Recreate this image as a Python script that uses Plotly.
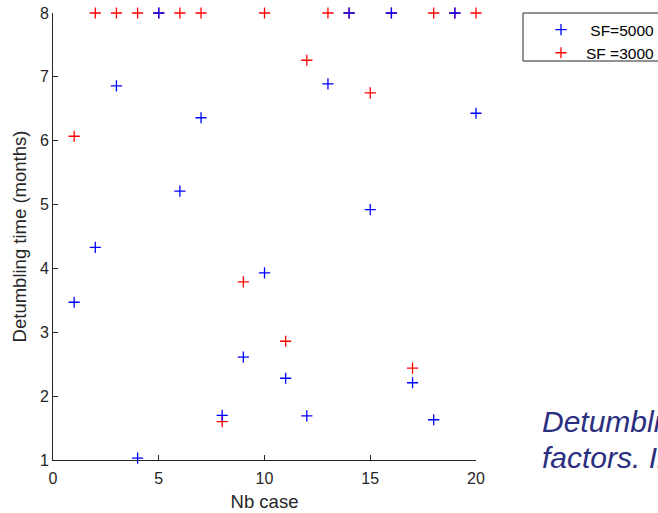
import plotly.graph_objects as go

cases = list(range(1, 21))
sf5000 = [3.47, 4.33, 6.86, 1.03, 8.0, 5.21, 6.36, 1.70, 2.61, 3.93,
          2.28, 1.69, 6.89, 8.0, 4.92, 8.0, 2.21, 1.63, 8.0, 6.43]
sf3000 = [6.07, 8.0, 8.0, 8.0, 8.0, 8.0, 8.0, 1.60, 3.79, 8.0,
          2.86, 7.26, 8.0, 8.0, 6.75, 8.0, 2.44, 8.0, 8.0, 8.0]

W, H = 658, 513
ml, mr, mt, mb = 53, 182, 13, 53
pw = W - ml - mr
ph = H - mt - mb
def px(xpix):
    return (xpix - ml) / pw
def py(ypix):
    return (H - mb - ypix) / ph

fig = go.Figure()
fig.add_trace(go.Scatter(x=cases, y=sf3000, mode="markers", name="SF =3000",
                         legendrank=2, cliponaxis=False,
                         marker=dict(symbol="cross-thin", size=8, color="red",
                                     line=dict(color="red", width=1.3))))
fig.add_trace(go.Scatter(x=cases, y=sf5000, mode="markers", name="\u00a0SF=5000",
                         legendrank=1, cliponaxis=False,
                         marker=dict(symbol="cross-thin", size=8, color="blue",
                                     line=dict(color="blue", width=1.3))))

axcol = "#262626"
fig.update_xaxes(range=[0, 20], tickvals=[0, 5, 10, 15, 20], ticks="inside",
                 ticklen=5, tickcolor=axcol, showline=True, linecolor=axcol,
                 linewidth=1, showgrid=False, zeroline=False, automargin=False,
                 tickfont=dict(size=16, color=axcol), ticklabelstandoff=4,
                 title=dict(text="Nb case", font=dict(size=18.5, color=axcol), standoff=8))
fig.update_yaxes(range=[1, 8], tickvals=[1, 2, 3, 4, 5, 6, 7, 8], ticks="inside",
                 ticklen=5, tickcolor=axcol, showline=True, linecolor=axcol,
                 linewidth=1, showgrid=False, zeroline=False, automargin=False,
                 tickfont=dict(size=16, color=axcol),
                 title=dict(text="Detumbling time (months)", font=dict(size=18.5, color=axcol), standoff=8))

fig.add_shape(type="rect", xref="paper", yref="paper",
              x0=px(523), x1=px(670), y0=py(61), y1=py(13),
              line=dict(color=axcol, width=1), fillcolor="rgba(0,0,0,0)")

fig.add_annotation(xref="paper", yref="paper", x=px(540), y=py(403), xanchor="left",
                   yanchor="top", text="<i>Detumbling time</i>", showarrow=False, align="left",
                   font=dict(family="Liberation Sans, Arial", size=30, color="#2B2F80"))
fig.add_annotation(xref="paper", yref="paper", x=px(540), y=py(439), xanchor="left",
                   yanchor="top", text="<i>factors. In</i>", showarrow=False, align="left",
                   font=dict(family="Liberation Sans, Arial", size=30, color="#2B2F80"))

fig.update_layout(
    width=W, height=H,
    margin=dict(l=ml, r=mr, t=mt, b=mb, autoexpand=False),
    paper_bgcolor="white", plot_bgcolor="white",
    font=dict(family="Liberation Sans, Arial, sans-serif", color=axcol),
    legend=dict(x=px(536), y=py(13), xanchor="left", yanchor="top",
                bgcolor="rgba(0,0,0,0)", borderwidth=0,
                font=dict(size=15.5, color="black"), itemwidth=40,
                tracegroupgap=0),
)
fig.write_html("out.html")
